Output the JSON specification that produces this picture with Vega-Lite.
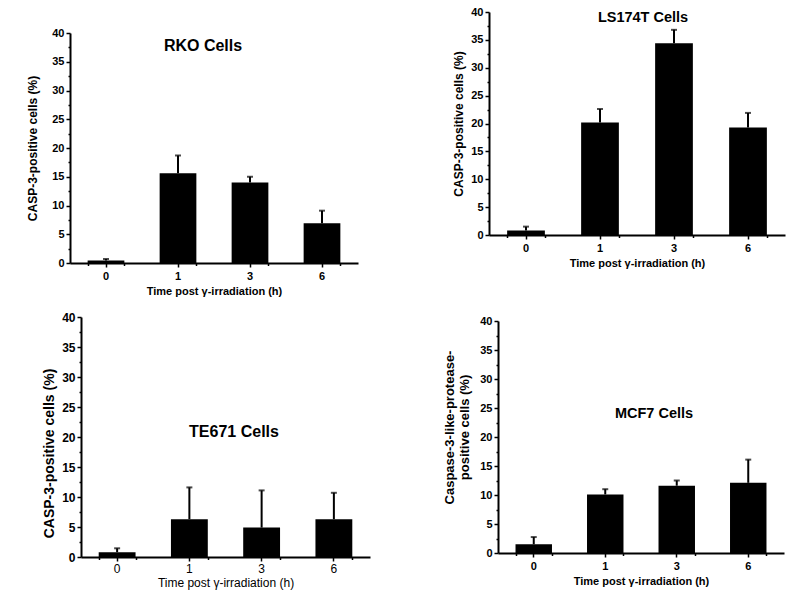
{
  "$schema": "https://vega.github.io/schema/vega-lite/v6.json",
  "background": "white",
  "padding": {"left": 26, "top": 6, "right": 5, "bottom": 5},
  "data": {"values": [
    {"cell": "RKO", "time": "0", "value": 0.45, "upper": 0.7},
    {"cell": "RKO", "time": "1", "value": 15.6, "upper": 18.7},
    {"cell": "RKO", "time": "3", "value": 14.0, "upper": 15.0},
    {"cell": "RKO", "time": "6", "value": 6.9, "upper": 9.1},
    {"cell": "LS174T", "time": "0", "value": 0.8, "upper": 1.5},
    {"cell": "LS174T", "time": "1", "value": 20.2, "upper": 22.6},
    {"cell": "LS174T", "time": "3", "value": 34.4, "upper": 36.8},
    {"cell": "LS174T", "time": "6", "value": 19.3, "upper": 21.9},
    {"cell": "TE671", "time": "0", "value": 0.8, "upper": 1.45},
    {"cell": "TE671", "time": "1", "value": 6.3, "upper": 11.6},
    {"cell": "TE671", "time": "3", "value": 4.9, "upper": 11.1},
    {"cell": "TE671", "time": "6", "value": 6.3, "upper": 10.7},
    {"cell": "MCF7", "time": "0", "value": 1.5, "upper": 2.75},
    {"cell": "MCF7", "time": "1", "value": 10.1, "upper": 11.0},
    {"cell": "MCF7", "time": "3", "value": 11.6, "upper": 12.5},
    {"cell": "MCF7", "time": "6", "value": 12.1, "upper": 16.1}
  ]},
  "columns": 2,
  "spacing": {"row": 54, "column": 119},
  "bounds": "flush",
  "concat": [
    {
      "width": 288, "height": 251,
      "transform": [{"filter": "datum.cell === 'RKO'"}],
      "title": {"text": "RKO Cells", "frame": "group", "anchor": "middle", "offset": 0, "dx": -11, "dy": 42, "fontSize": 16},
      "layer": [
        {"mark": {"type": "bar", "color": "black"},
         "encoding": {
           "x": {"field": "time", "type": "ordinal", "sort": ["0", "1", "3", "6"], "scale": {"paddingInner": 0.49, "paddingOuter": 0.245},
                 "axis": {"title": "Time post γ-irradiation (h)", "labelAngle": 0, "tickSize": 4, "labelPadding": 3, "titlePadding": 4, "labelFontSize": 11, "titleFontSize": 11}},
           "y": {"field": "value", "type": "quantitative", "scale": {"domain": [0, 40], "range": [251, 21], "nice": false},
                 "axis": {"title": "CASP-3-positive cells (%)", "values": [0, 2.5, 5, 7.5, 10, 12.5, 15, 17.5, 20, 22.5, 25, 27.5, 30, 32.5, 35, 37.5, 40],
                          "labelExpr": "datum.value % 5 === 0 ? '' + datum.value : ''", "labelOverlap": false,
                          "tickSize": {"condition": {"test": "datum.value % 5 !== 0", "value": 2}, "value": 4},
                          "labelPadding": 2, "labelFontSize": 11, "titleFontSize": 12, "titlePadding": 12}}
         }},
        {"mark": {"type": "rule", "color": "black", "strokeWidth": 2},
         "encoding": {
           "x": {"field": "time", "type": "ordinal", "sort": ["0", "1", "3", "6"], "axis": null},
           "y": {"field": "value", "type": "quantitative", "axis": null},
           "y2": {"field": "upper"}
         }},
        {"mark": {"type": "tick", "color": "black", "thickness": 2, "size": 6},
         "encoding": {
           "x": {"field": "time", "type": "ordinal", "sort": ["0", "1", "3", "6"],
                 "axis": {"orient": "bottom", "tickBand": "extent", "labels": false, "domain": false, "title": null, "tickSize": 2.5}},
           "y": {"field": "upper", "type": "quantitative", "axis": null}
         }}
      ],
      "resolve": {"axis": {"x": "independent", "y": "independent"}}
    },
    {
      "width": 296, "height": 223,
      "transform": [{"filter": "datum.cell === 'LS174T'"}],
      "title": {"text": "LS174T Cells", "frame": "group", "anchor": "middle", "offset": 0, "dx": 6, "dy": 19.5, "fontSize": 14.5},
      "layer": [
        {"mark": {"type": "bar", "color": "black"},
         "encoding": {
           "x": {"field": "time", "type": "ordinal", "sort": ["0", "1", "3", "6"], "scale": {"paddingInner": 0.49, "paddingOuter": 0.245},
                 "axis": {"title": "Time post γ-irradiation (h)", "labelAngle": 0, "tickSize": 4, "labelPadding": 3, "titlePadding": 4, "labelFontSize": 11, "titleFontSize": 11}},
           "y": {"field": "value", "type": "quantitative", "scale": {"domain": [0, 40], "range": [223, 0], "nice": false},
                 "axis": {"title": "CASP-3-positive cells (%)", "values": [0, 2.5, 5, 7.5, 10, 12.5, 15, 17.5, 20, 22.5, 25, 27.5, 30, 32.5, 35, 37.5, 40],
                          "labelExpr": "datum.value % 5 === 0 ? '' + datum.value : ''", "labelOverlap": false,
                          "tickSize": {"condition": {"test": "datum.value % 5 !== 0", "value": 2}, "value": 4},
                          "labelPadding": 2, "labelFontSize": 11, "titleFontSize": 12, "titlePadding": 5}}
         }},
        {"mark": {"type": "rule", "color": "black", "strokeWidth": 2},
         "encoding": {
           "x": {"field": "time", "type": "ordinal", "sort": ["0", "1", "3", "6"], "axis": null},
           "y": {"field": "value", "type": "quantitative", "axis": null},
           "y2": {"field": "upper"}
         }},
        {"mark": {"type": "tick", "color": "black", "thickness": 2, "size": 6},
         "encoding": {
           "x": {"field": "time", "type": "ordinal", "sort": ["0", "1", "3", "6"],
                 "axis": {"orient": "bottom", "tickBand": "extent", "labels": false, "domain": false, "title": null, "tickSize": 2.5}},
           "y": {"field": "upper", "type": "quantitative", "axis": null}
         }}
      ],
      "resolve": {"axis": {"x": "independent", "y": "independent"}}
    },
    {
      "width": 300, "height": 240,
      "transform": [{"filter": "datum.cell === 'TE671'"}],
      "title": {"text": "TE671 Cells", "frame": "group", "anchor": "middle", "offset": 0, "dx": 14, "dy": 128.5, "fontSize": 16},
      "layer": [
        {"mark": {"type": "bar", "color": "black"},
         "encoding": {
           "x": {"field": "time", "type": "ordinal", "sort": ["0", "1", "3", "6"], "scale": {"paddingInner": 0.49, "paddingOuter": 0.245, "range": [11, 300]},
                 "axis": {"title": "Time post γ-irradiation (h)", "labelAngle": 0, "tickSize": 4, "labelPadding": 2, "titlePadding": 3, "labelFontSize": 12, "labelFontWeight": "normal", "titleFontSize": 12, "titleFontWeight": "normal"}},
           "y": {"field": "value", "type": "quantitative", "scale": {"domain": [0, 40], "range": [240, 0], "nice": false},
                 "axis": {"title": "CASP-3-positive cells (%)", "offset": -11, "titleY": 136, "values": [0, 2.5, 5, 7.5, 10, 12.5, 15, 17.5, 20, 22.5, 25, 27.5, 30, 32.5, 35, 37.5, 40],
                          "labelExpr": "datum.value % 5 === 0 ? '' + datum.value : ''", "labelOverlap": false,
                          "tickSize": {"condition": {"test": "datum.value % 5 !== 0", "value": 2}, "value": 4},
                          "labelPadding": 2, "labelFontSize": 12, "titleFontSize": 14, "titlePadding": 5}}
         }},
        {"mark": {"type": "rule", "color": "black", "strokeWidth": 2},
         "encoding": {
           "x": {"field": "time", "type": "ordinal", "sort": ["0", "1", "3", "6"], "axis": null},
           "y": {"field": "value", "type": "quantitative", "axis": null},
           "y2": {"field": "upper"}
         }},
        {"mark": {"type": "tick", "color": "black", "thickness": 2, "size": 6},
         "encoding": {
           "x": {"field": "time", "type": "ordinal", "sort": ["0", "1", "3", "6"],
                 "axis": {"orient": "bottom", "tickBand": "extent", "labels": false, "domain": false, "title": null, "tickSize": 2.5}},
           "y": {"field": "upper", "type": "quantitative", "axis": null}
         }}
      ],
      "resolve": {"axis": {"x": "independent", "y": "independent"}}
    },
    {
      "width": 295, "height": 236,
      "transform": [{"filter": "datum.cell === 'MCF7'"}],
      "title": {"text": "MCF7 Cells", "frame": "group", "anchor": "middle", "offset": 0, "dx": 17.5, "dy": 106, "fontSize": 14.5},
      "layer": [
        {"mark": {"type": "bar", "color": "black"},
         "encoding": {
           "x": {"field": "time", "type": "ordinal", "sort": ["0", "1", "3", "6"], "scale": {"paddingInner": 0.49, "paddingOuter": 0.245, "range": [9, 295]},
                 "axis": {"title": "Time post γ-irradiation (h)", "labelAngle": 0, "tickSize": 4, "labelPadding": 3, "titlePadding": 4, "labelFontSize": 11, "titleFontSize": 11}},
           "y": {"field": "value", "type": "quantitative", "scale": {"domain": [0, 40], "range": [236, 4], "nice": false},
                 "axis": {"title": ["Caspase-3-like-protease-", "positive cells (%)"], "offset": -9, "titleY": 110, "titleLineHeight": 15, "values": [0, 2.5, 5, 7.5, 10, 12.5, 15, 17.5, 20, 22.5, 25, 27.5, 30, 32.5, 35, 37.5, 40],
                          "labelExpr": "datum.value % 5 === 0 ? '' + datum.value : ''", "labelOverlap": false,
                          "tickSize": {"condition": {"test": "datum.value % 5 !== 0", "value": 2}, "value": 4},
                          "labelPadding": 2, "labelFontSize": 11, "titleFontSize": 13, "titlePadding": 8}}
         }},
        {"mark": {"type": "rule", "color": "black", "strokeWidth": 2},
         "encoding": {
           "x": {"field": "time", "type": "ordinal", "sort": ["0", "1", "3", "6"], "axis": null},
           "y": {"field": "value", "type": "quantitative", "axis": null},
           "y2": {"field": "upper"}
         }},
        {"mark": {"type": "tick", "color": "black", "thickness": 2, "size": 6},
         "encoding": {
           "x": {"field": "time", "type": "ordinal", "sort": ["0", "1", "3", "6"],
                 "axis": {"orient": "bottom", "tickBand": "extent", "labels": false, "domain": false, "title": null, "tickSize": 2.5}},
           "y": {"field": "upper", "type": "quantitative", "axis": null}
         }}
      ],
      "resolve": {"axis": {"x": "independent", "y": "independent"}}
    }
  ],
  "config": {
    "view": {"stroke": null},
    "font": "Liberation Sans",
    "axis": {
      "grid": false, "domainColor": "black", "domainWidth": 2, "tickColor": "black", "tickWidth": 1.5,
      "labelColor": "black", "titleColor": "black", "labelFont": "Liberation Sans", "titleFont": "Liberation Sans",
      "labelFontWeight": "bold", "titleFontWeight": "bold"
    },
    "title": {"font": "Liberation Sans", "fontWeight": "bold", "color": "black"}
  }
}
